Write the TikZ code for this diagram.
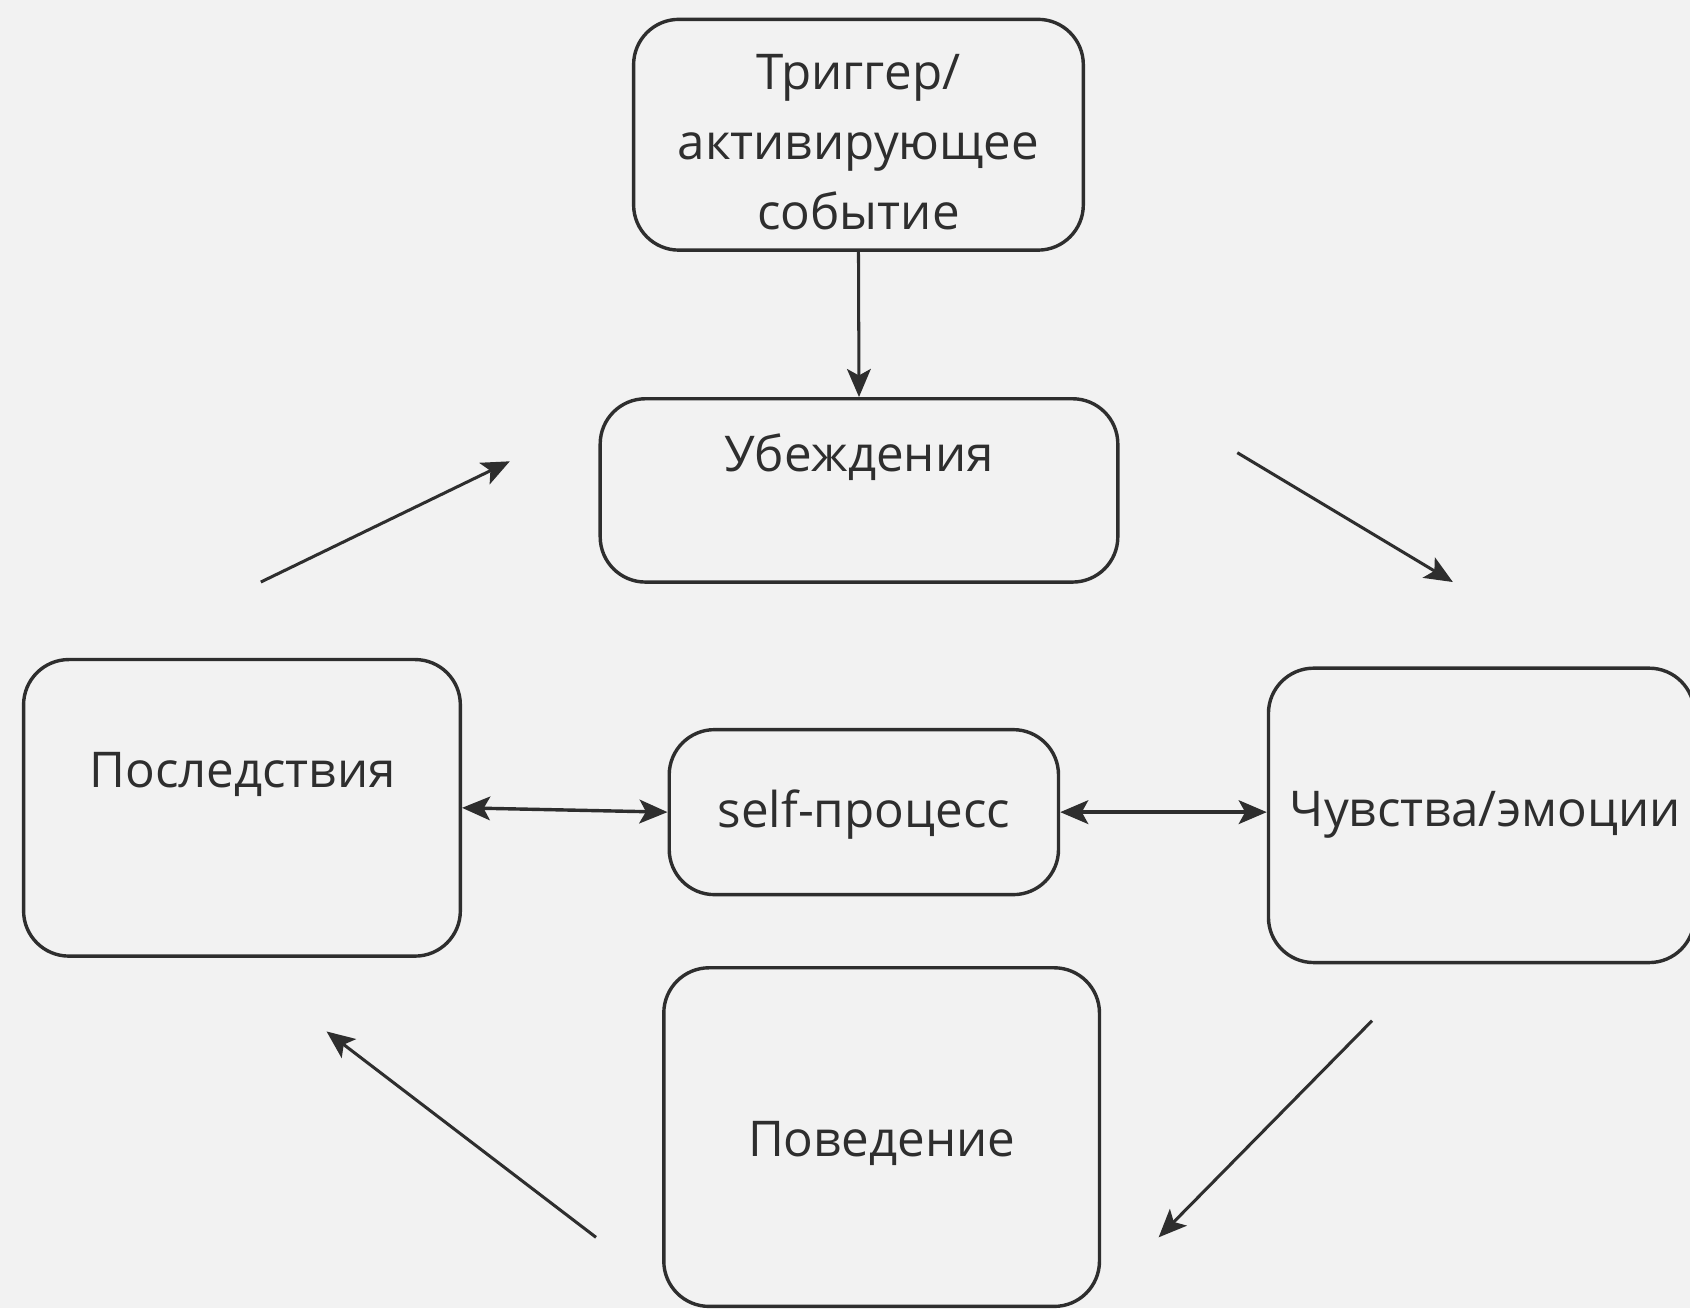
\documentclass[tikz,border=0pt]{standalone}
\usepackage{fontspec}
\setmainfont{Open Sans}
\usetikzlibrary{arrows.meta}
\definecolor{bg}{HTML}{F2F2F2}
\definecolor{ink}{HTML}{2E2E2E}
\tikzset{
  box/.style={draw=ink, line width=0.9pt, rounded corners=0.42cm, inner sep=0pt},
  lbl/.style={text=ink, font=\fontsize{13}{18.5}\selectfont, inner sep=0pt, align=center},
  tip/.tip={Stealth[length=0.26cm,width=0.22cm,inset=0.06cm]},
  conn/.style={draw=ink, line width=0.8pt, -tip},
  biconn/.style={draw=ink, line width=0.9pt, tip-tip}
}
\begin{document}
\begin{tikzpicture}[x=0.01cm,y=-0.01cm]
\fill[bg] (0,0) rectangle (1568,1214);
\useasboundingbox (0,0) rectangle (1568,1214);
% boxes
\node[box, minimum width=4.17cm, minimum height=2.14cm] (trig) at (796.5,125) {};
\node[lbl] (trigt) at (796.5,132) {Триггер/\\активирующее\\событие};
\node[box, minimum width=4.80cm, minimum height=1.70cm] (bel) at (797,455) {};
\node[lbl] (belt) at (797,424) {Убеждения};
\node[box, minimum width=4.05cm, minimum height=2.75cm] (cons) at (224.5,749.5) {};
\node[lbl] (const) at (225,719) {Последствия};
\node[box, minimum width=3.61cm, minimum height=1.53cm] (self) at (801.5,753.5) {};
\node[lbl] (selft) at (801.5,756) {self-процесс};
\node[box, minimum width=3.95cm, minimum height=2.73cm] (feel) at (1374.5,756.5) {};
\node[lbl] (feelt) at (1378,756) {Чувства/эмоции};
\node[box, minimum width=4.04cm, minimum height=3.14cm] (beh) at (818,1055) {};
\node[lbl] (beht) at (818,1061) {Поведение};
% free arrow ends
\coordinate (a1s) at (242,540);
\coordinate (a1e) at (473,428);
\coordinate (a2s) at (1148,420);
\coordinate (a2e) at (1348,540);
\coordinate (a3s) at (1273,947);
\coordinate (a3e) at (1075,1148);
\coordinate (a4s) at (553,1148);
\coordinate (a4e) at (303,957);
% connectors
\draw[conn] (trig.south) -- (bel.north);
\draw[conn] (a1s) -- (a1e);
\draw[conn] (a2s) -- (a2e);
\draw[conn] (a3s) -- (a3e);
\draw[conn] (a4s) -- (a4e);
\draw[biconn] (cons.east) -- (self.west);
\draw[biconn] (self.east) -- (self.east -| feel.west);
\end{tikzpicture}
\end{document}
